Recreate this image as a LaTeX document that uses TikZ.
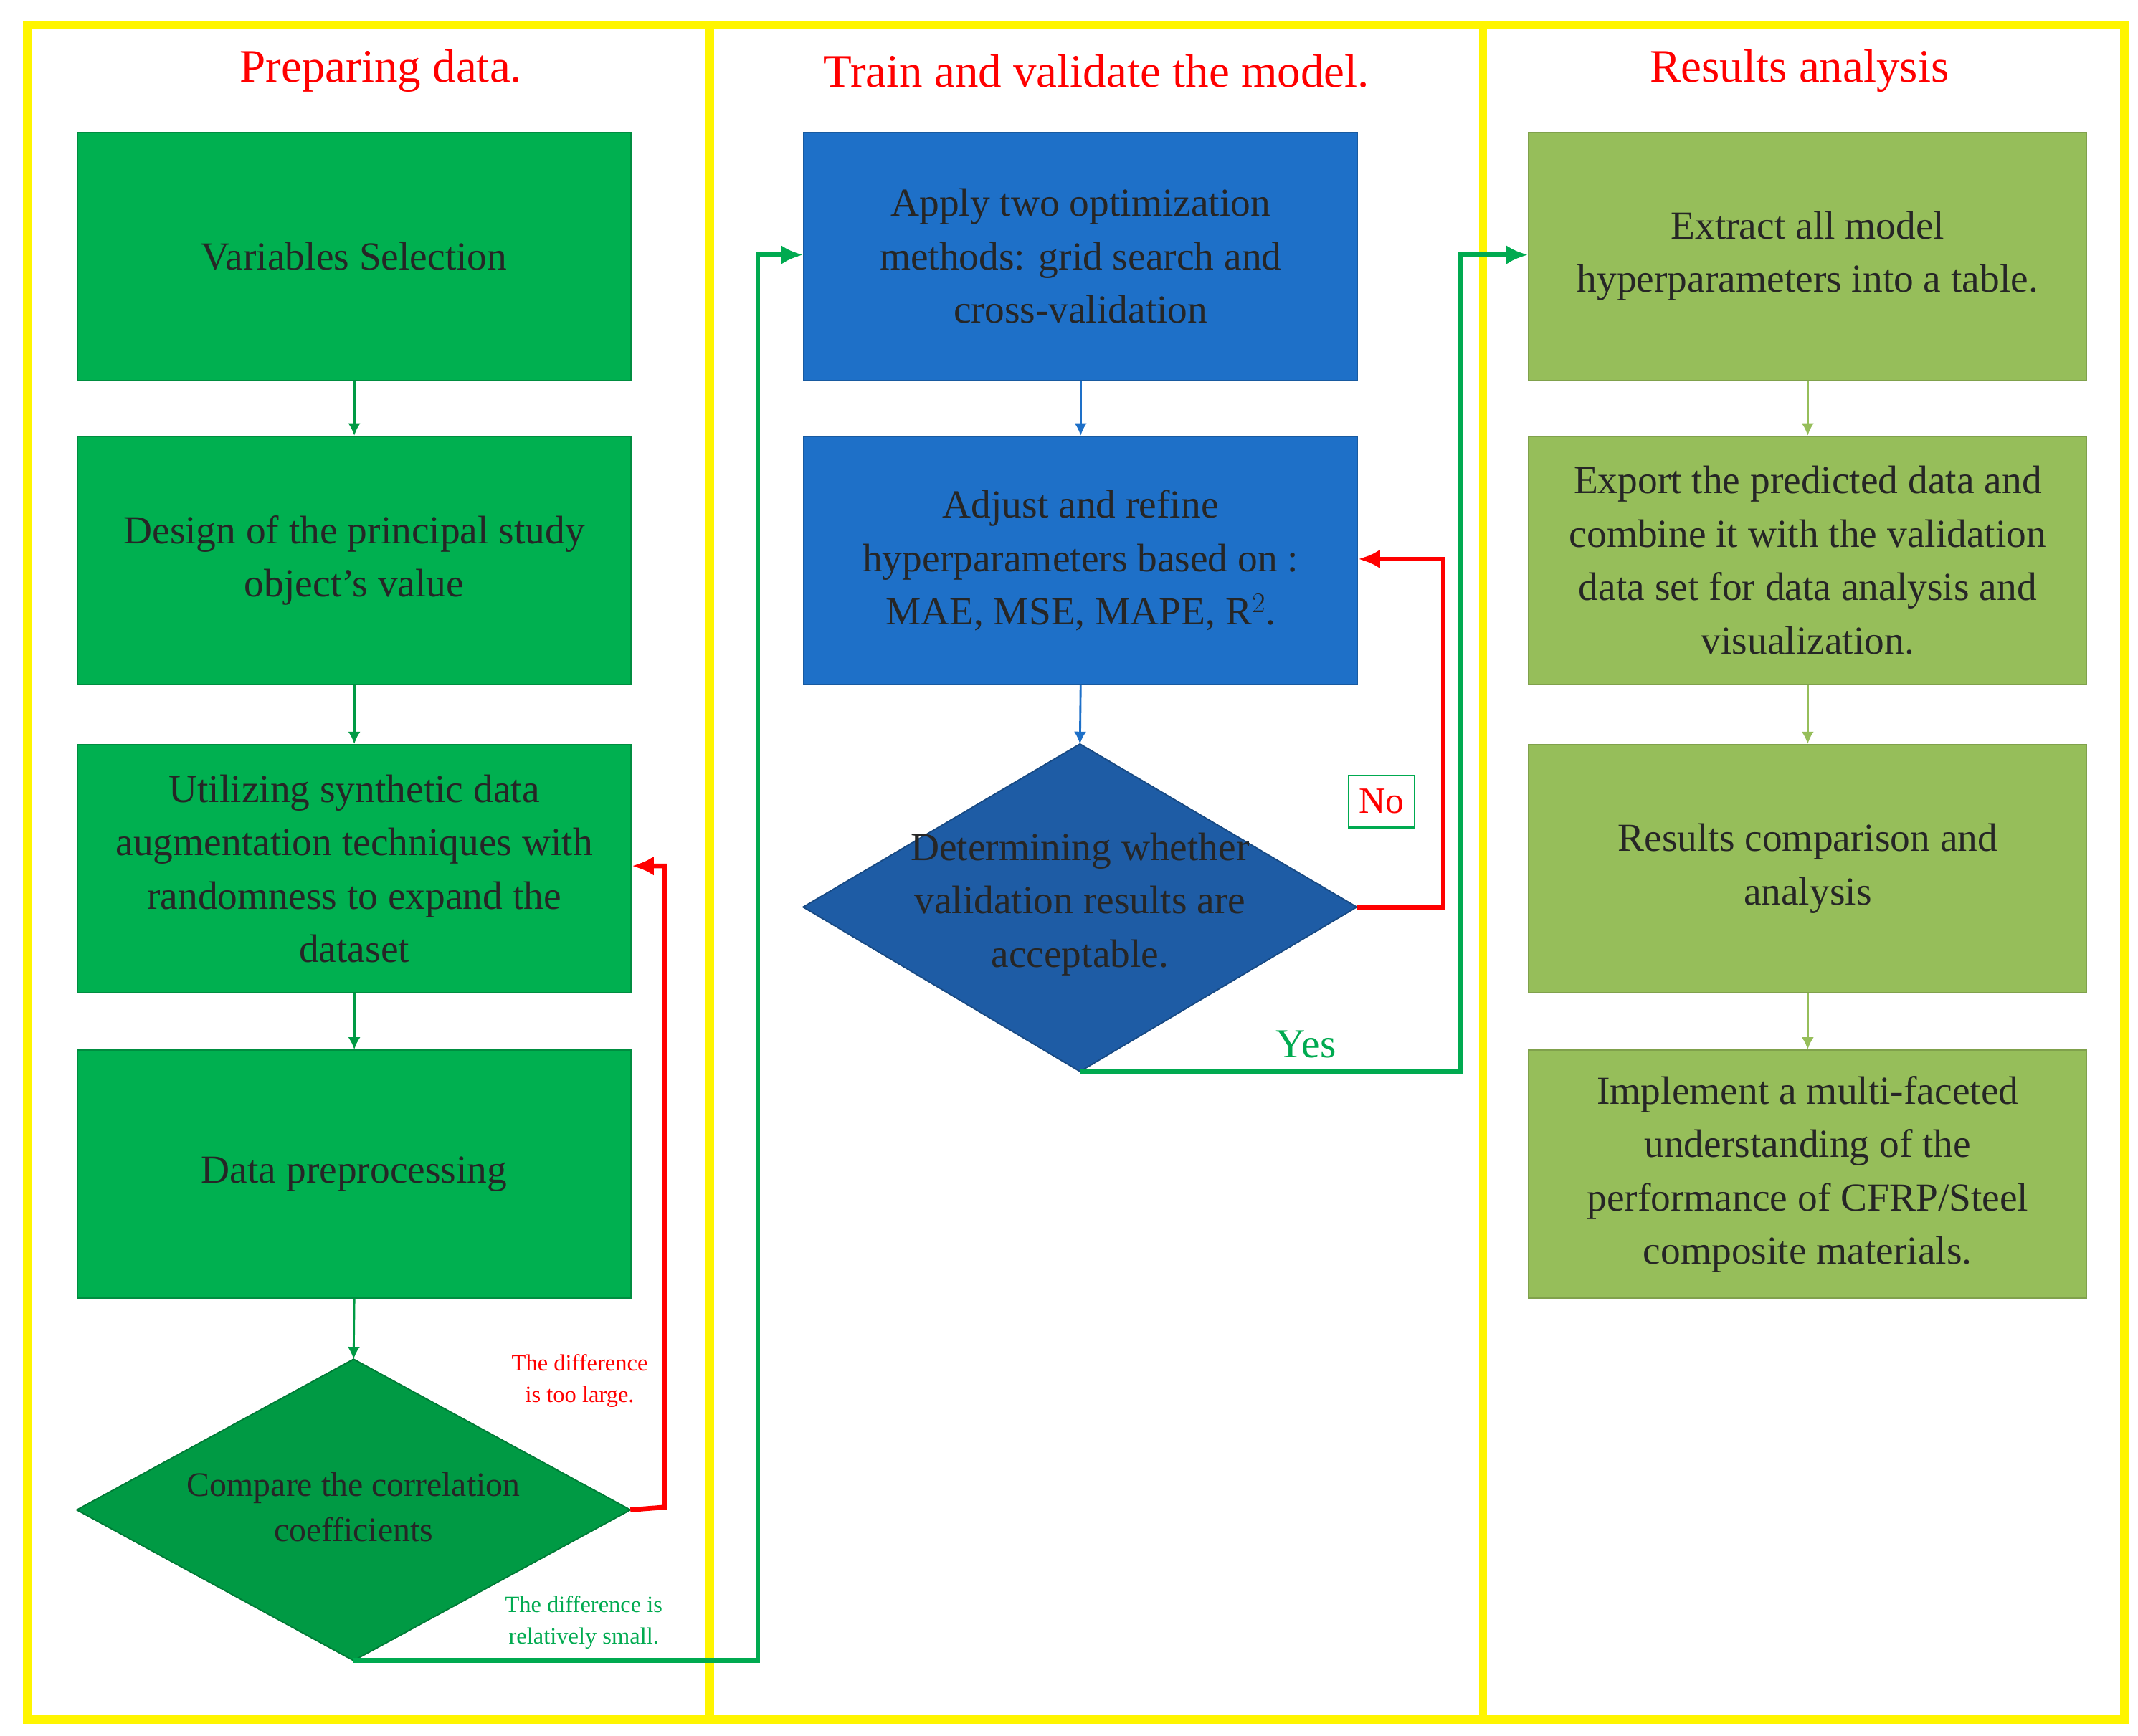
\documentclass[tikz,border=0pt]{standalone}
\usepackage{fontspec}
\setmainfont{Liberation Serif}
\usetikzlibrary{arrows.meta}
\definecolor{yel}{RGB}{255,245,0}
\definecolor{gA}{RGB}{0,176,80}
\definecolor{gD}{RGB}{0,154,68}
\definecolor{bA}{RGB}{30,112,200}
\definecolor{bD}{RGB}{30,92,165}
\definecolor{oA}{RGB}{150,190,90}
\definecolor{rd}{RGB}{255,0,0}
\definecolor{gl}{RGB}{0,170,80}
\begin{document}
\begin{tikzpicture}[x=1pt,y=-1pt,
 box/.style={minimum width=404pt,minimum height=181pt,anchor=north west,align=center,inner sep=0pt,font=\fontsize{29}{39}\selectfont,text=black!85},
 gbox/.style={box,fill=gA,draw=gA!80!black,line width=1pt},
 bbox/.style={box,fill=bA,draw=bA!80!black,line width=1pt},
 obox/.style={box,minimum width=407pt,fill=oA,draw=oA!85!black,line width=1pt},
 title/.style={text=rd,font=\fontsize{34}{40}\selectfont},
 sarr/.style={-{Latex[length=9pt,width=9pt]},line width=1.5pt},
 big/.style={-{Latex[length=16pt,width=14pt]},line width=3.5pt},
 small/.style={align=center,font=\fontsize{17}{23}\selectfont}]
\useasboundingbox (0,0) rectangle (1560,1267);
\fill[white] (0,0) rectangle (1560,1267);
% frames
\draw[yel,line width=6pt] (20,18) rectangle (518,1255);
\draw[yel,line width=6pt] (518,18) rectangle (1082,1255);
\draw[yel,line width=6pt] (1082,18) rectangle (1550,1255);
\node[title] (t1) at (278,52) {Preparing data.};
\node[title] (t2) at (800,52) {Train and validate the model.};
\node[title] (t3) at (1313,52) {Results analysis};
% left column
\node[gbox] (l1) at (56,96) {Variables Selection};
\node[gbox] (l2) at (56,318) {Design of the principal study\\object's value};
\node[gbox] (l3) at (56,543) {Utilizing synthetic data\\augmentation techniques with\\randomness to expand the\\dataset};
\node[gbox] (l4) at (56,766) {Data preprocessing};
\filldraw[fill=gD,draw=gD!80!black,line width=1pt] (258,992) coordinate (dt) -- (460,1102) coordinate (dr) -- (258,1212) coordinate (db) -- (56,1102) -- cycle;
\node[align=center,font=\fontsize{25}{33}\selectfont,text=black!85] (dl) at (258,1100) {Compare the correlation\\coefficients};
\draw[sarr,gD] (l1.south) -- (l2.north);
\draw[sarr,gD] (l2.south) -- (l3.north);
\draw[sarr,gD] (l3.south) -- (l4.north);
\draw[sarr,gD] (l4.south) -- (dt);
\coordinate (r1) at (485,1100);
\coordinate (r2) at (485,632);
\draw[big,rd] (dr) -- (r1) -- (r2) -- (l3.east|-r2);
\node[small,text=rd] (lab1) at (423,1008) {The difference\\is too large.};
\node[small,text=gl] (lab2) at (426,1184) {The difference is\\relatively small.};
% middle column
\node[bbox] (m1) at (586,96) {Apply two optimization\\methods: grid search and\\cross-validation};
\node[bbox] (m2) at (586,318) {Adjust and refine\\hyperparameters based on :\\MAE, MSE, MAPE, R$^{2}$.};
\filldraw[fill=bD,draw=bD!80!black,line width=1pt] (788,543) coordinate (mt) -- (990,662) coordinate (mr) -- (788,782) coordinate (mb) -- (586,662) -- cycle;
\node[align=center,font=\fontsize{29}{39}\selectfont,text=black!85] (md) at (788,660) {Determining whether\\validation results are\\acceptable.};
\draw[sarr,bA] (m1.south) -- (m2.north);
\draw[sarr,bA] (m2.south) -- (mt);
\coordinate (g1) at (553,1212);
\coordinate (g2) at (553,186);
\draw[big,gl] (db) -- (g1) -- (g2) -- (m1.west|-g2);
\coordinate (n1) at (1053,662);
\coordinate (n2) at (1053,408);
\draw[big,rd] (mr) -- (n1) -- (n2) -- (m2.east|-n2);
\node[draw=gl,line width=1.2pt,text=rd,font=\fontsize{27}{30}\selectfont,minimum width=48pt,minimum height=38pt] (no) at (1008,585) {No};
\node[text=gl,font=\fontsize{30}{34}\selectfont] (yes) at (953,762) {Yes};
% right column
\node[obox] (q1) at (1115,96) {Extract all model\\hyperparameters into a table.};
\node[obox] (q2) at (1115,318) {Export the predicted data and\\combine it with the validation\\data set for data analysis and\\visualization.};
\node[obox] (q3) at (1115,543) {Results comparison and\\analysis};
\node[obox] (q4) at (1115,766) {Implement a multi-faceted\\understanding of the\\performance of CFRP/Steel\\composite materials.};
\draw[sarr,oA] (q1.south) -- (q2.north);
\draw[sarr,oA] (q2.south) -- (q3.north);
\draw[sarr,oA] (q3.south) -- (q4.north);
\coordinate (y1) at (1066,782);
\coordinate (y2) at (1066,186);
\draw[big,gl] (mb) -- (y1) -- (y2) -- (q1.west|-y2);
\end{tikzpicture}
\end{document}
